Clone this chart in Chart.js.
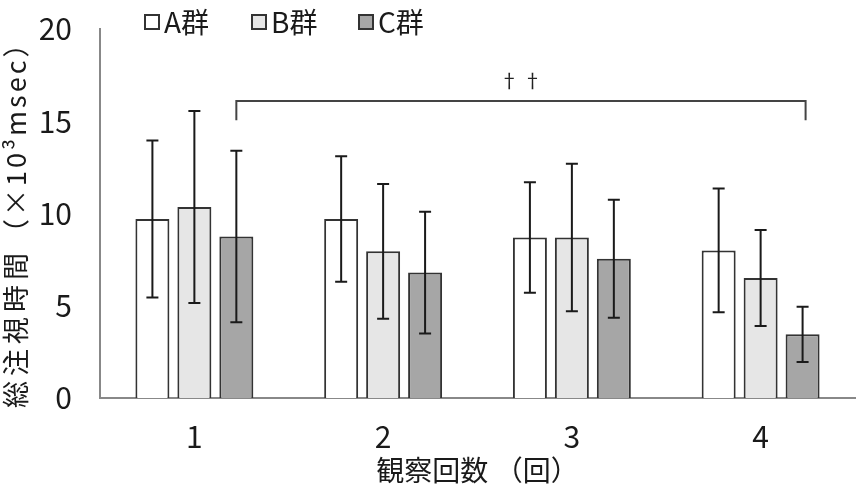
<!DOCTYPE html>
<html>
<head>
<meta charset="utf-8">
<script src="https://cdn.jsdelivr.net/npm/chart.js@4"></script>
<style>
  html, body { margin: 0; padding: 0; background: #fff; }
  #wrap { width: 861px; height: 499px; }
</style>
</head>
<body>
<div id="wrap"><canvas id="gazeChart" width="861" height="499"></canvas></div>
<script>
// data
const sessions = ['1', '2', '3', '4'];
const groupNames = ['A群', 'B群', 'C群'];
const meanA = [9.7, 9.7, 8.7, 8.0];
const meanB = [10.35, 7.95, 8.7, 6.5];
const meanC = [8.75, 6.8, 7.55, 3.45];
const sdA = [4.25, 3.4, 3.0, 3.35];
const sdB = [5.2, 3.65, 4.0, 2.6];
const sdC = [4.65, 3.3, 3.2, 1.5];
const yTicks = [0, 5, 10, 15, 20];
const markText = '† †';
const yTitleMain = '総注視時間';
const yTitleUnit = '（×10³msec）';

const FONT = "'Noto Sans CJK JP', sans-serif";
const fills = ['#ffffff', '#e6e6e6', '#a6a6a6'];

// error bars (mean ± sd)
const errorBars = {
  id: 'errorBars',
  afterDatasetsDraw(chart) {
    const ctx = chart.ctx;
    const y = chart.scales.y;
    const sds = [sdA, sdB, sdC];
    ctx.save();
    ctx.strokeStyle = '#1a1a1a';
    ctx.lineWidth = 2;
    chart.data.datasets.forEach((ds, i) => {
      const meta = chart.getDatasetMeta(i);
      meta.data.forEach((bar, j) => {
        const m = ds.data[j], s = sds[i][j];
        const top = y.getPixelForValue(m + s);
        const bot = y.getPixelForValue(m - s);
        ctx.beginPath();
        ctx.moveTo(bar.x, top); ctx.lineTo(bar.x, bot);
        ctx.moveTo(bar.x - 6, top); ctx.lineTo(bar.x + 6, top);
        ctx.moveTo(bar.x - 6, bot); ctx.lineTo(bar.x + 6, bot);
        ctx.stroke();
      });
    });
    ctx.restore();
  }
};

// significance bracket between C群 session 1 and session 4
const bracket = {
  id: 'bracket',
  afterDatasetsDraw(chart) {
    const ctx = chart.ctx;
    const y = chart.scales.y;
    const meta = chart.getDatasetMeta(2);
    const x1 = meta.data[0].x, x2 = meta.data[3].x + 3;
    const yTop = y.getPixelForValue(16.1);
    const yLow = y.getPixelForValue(15.05);
    ctx.save();
    ctx.strokeStyle = '#444';
    ctx.lineWidth = 2;
    ctx.beginPath();
    ctx.moveTo(x1, yLow); ctx.lineTo(x1, yTop); ctx.lineTo(x2, yTop); ctx.lineTo(x2, yLow);
    ctx.stroke();
    ctx.fillStyle = '#222';
    ctx.font = '19px ' + FONT;
    ctx.textAlign = 'center';
    ctx.textBaseline = 'middle';
    ctx.fillText(markText, (x1 + x2) / 2, y.getPixelForValue(17.2));
    ctx.restore();
  }
};

// legend drawn inside the top of the plot
const topLegend = {
  id: 'topLegend',
  afterDraw(chart) {
    const ctx = chart.ctx;
    let x = 145;
    const cy = 22;
    ctx.save();
    ctx.font = '28px ' + FONT;
    ctx.textBaseline = 'middle';
    chart.data.datasets.forEach((ds) => {
      ctx.fillStyle = ds.backgroundColor;
      ctx.fillRect(x, cy - 7, 14, 14);
      ctx.strokeStyle = '#333';
      ctx.lineWidth = 2;
      ctx.strokeRect(x, cy - 7, 14, 14);
      ctx.fillStyle = '#1a1a1a';
      ctx.fillText(ds.label, x + 19, cy);
      x += 107;
    });
    ctx.restore();
  }
};

// rotated y title, spaced out like the original
const yTitle = {
  id: 'yTitle',
  afterDraw(chart) {
    const ctx = chart.ctx;
    ctx.save();
    ctx.translate(16, 408);
    ctx.rotate(-Math.PI / 2);
    ctx.font = '27px ' + FONT;
    ctx.fillStyle = '#1a1a1a';
    ctx.textAlign = 'left';
    ctx.textBaseline = 'middle';
    ctx.letterSpacing = '5px';
    ctx.fillText(yTitleMain, 0, 0);
    const w = ctx.measureText(yTitleMain).width;
    ctx.letterSpacing = '3px';
    ctx.fillText(yTitleUnit, w + 2, 0);
    ctx.restore();
  }
};

const ctx = document.getElementById('gazeChart').getContext('2d');

new Chart(ctx, {
  type: 'bar',
  data: {
    labels: sessions,
    datasets: [meanA, meanB, meanC].map((d, i) => ({
      label: groupNames[i],
      data: d,
      backgroundColor: fills[i],
      borderColor: '#333',
      borderWidth: 2,
      categoryPercentage: 0.667,
      barPercentage: 0.81
    }))
  },
  options: {
    responsive: false,
    animation: false,
    layout: { padding: { top: 29, right: 6, bottom: 12, left: 0 } },
    plugins: {
      legend: { display: false },
      tooltip: { enabled: false }
    },
    scales: {
      x: {
        grid: { display: false, drawTicks: false },
        border: { color: '#888', width: 2 },
        ticks: { color: '#1a1a1a', font: { family: FONT, size: 30 }, padding: 21 },
        title: {
          display: true,
          text: '観察回数 （回）',
          color: '#1a1a1a',
          font: { family: FONT, size: 28 },
          padding: 0
        },
        afterFit(scale) { scale.height = 89; }
      },
      y: {
        min: 0,
        max: 20,
        grid: { display: false, drawTicks: false },
        border: { color: '#888', width: 2 },
        afterBuildTicks(scale) { scale.ticks = yTicks.map(v => ({ value: v })); },
        ticks: { color: '#1a1a1a', font: { family: FONT, size: 30 }, padding: 28 },
        title: { display: false },
        afterFit(scale) {
          scale.width = 100;
          scale.paddingTop = 0;
          scale.paddingBottom = 0;
        }
      }
    }
  },
  plugins: [errorBars, bracket, topLegend, yTitle]
});
</script>
</body>
</html>
